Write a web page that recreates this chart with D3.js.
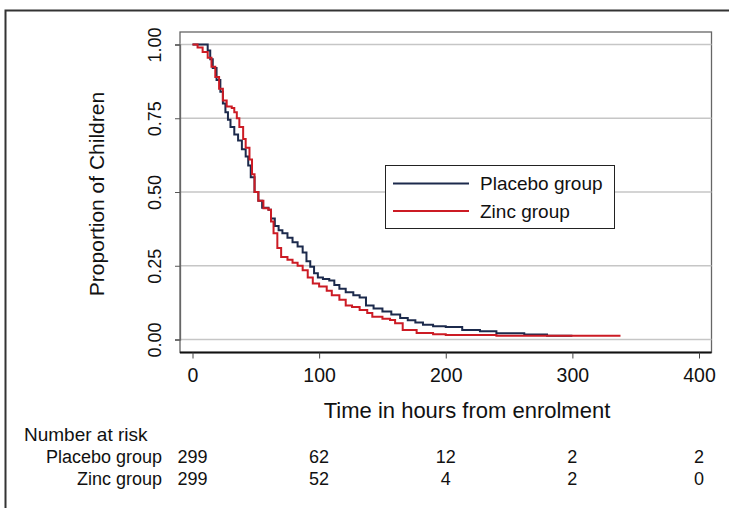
<!DOCTYPE html>
<html>
<head>
<meta charset="utf-8">
<script src="https://cdn.jsdelivr.net/npm/d3@7"></script>
<style>
  body { margin: 0; background: #fff; }
  svg text { font-family: "Liberation Sans", Arial, sans-serif; fill: #111; }
</style>
</head>
<body>
<svg id="chart" width="729" height="508"></svg>
<script>
// Kaplan-Meier steps: [hours, proportion]
const placeboSteps = [
  [0, 1.0], [10, 1.0], [12, 0.98], [14, 0.95], [16, 0.92], [19, 0.88], [22, 0.84], [24, 0.80],
  [26, 0.77], [28, 0.745], [30, 0.72], [33, 0.695], [36, 0.675], [39, 0.645], [42, 0.62],
  [44, 0.59], [46, 0.55], [49, 0.50], [52, 0.47], [55, 0.447], [60, 0.44], [62, 0.41],
  [65, 0.385], [68, 0.37], [71, 0.36], [75, 0.345], [79, 0.33], [83, 0.315], [87, 0.295],
  [90, 0.265], [93, 0.247], [96, 0.225], [99, 0.21], [103, 0.205], [108, 0.20], [112, 0.185],
  [116, 0.172], [121, 0.16], [127, 0.15], [132, 0.142], [137, 0.115], [143, 0.105], [150, 0.095],
  [157, 0.085], [164, 0.073], [170, 0.065], [176, 0.058], [182, 0.05], [190, 0.045], [200, 0.042],
  [213, 0.032], [227, 0.028], [240, 0.021], [262, 0.017], [280, 0.013], [300, 0.013]
];
const zincSteps = [
  [0, 1.0], [4, 0.99], [8, 0.975], [12, 0.955], [15, 0.925], [18, 0.89], [21, 0.85], [24, 0.81],
  [27, 0.79], [31, 0.785], [33, 0.77], [35, 0.75], [37, 0.72], [40, 0.68], [42, 0.65], [45, 0.61],
  [47, 0.56], [49, 0.50], [52, 0.47], [56, 0.445], [60, 0.44], [62, 0.40], [64, 0.36], [67, 0.31],
  [70, 0.28], [75, 0.27], [79, 0.26], [83, 0.25], [87, 0.235], [91, 0.21], [95, 0.19], [100, 0.18],
  [106, 0.165], [110, 0.15], [116, 0.135], [121, 0.115], [126, 0.11], [132, 0.10], [138, 0.09],
  [142, 0.077], [150, 0.07], [156, 0.066], [160, 0.055], [166, 0.032], [177, 0.022], [190, 0.018],
  [200, 0.015], [240, 0.013], [338, 0.013]
];

const groupNames = ["Placebo group", "Zinc group"];
const groupColors = ["#1c2a4c", "#cc1b24"];
const xTicks = [0, 100, 200, 300, 400];
const yTicks = [0, 0.25, 0.5, 0.75, 1];
const placeboAtRisk = [299, 62, 12, 2, 2];
const zincAtRisk = [299, 52, 4, 2, 0];

const font = "Liberation Sans, Arial, sans-serif";
const svg = d3.select("#chart");

// outer frame (top and left edges visible)
svg.append("path").attr("d", "M5.5,520 V10.5 H740")
  .attr("fill", "none").attr("stroke", "#333").attr("stroke-width", 2);

const box = {left: 180, right: 711.5, top: 32, bottom: 352.5};
const x = d3.scaleLinear().domain([0, 400]).range([192.5, 699]);
const y = d3.scaleLinear().domain([0, 1]).range([339.5, 44.5]);

// plot box
svg.append("rect").attr("x", box.left).attr("y", box.top)
  .attr("width", box.right - box.left).attr("height", box.bottom - box.top)
  .attr("fill", "none").attr("stroke", "#666").attr("stroke-width", 1.3);

// gridlines
svg.append("g").selectAll("line").data(yTicks).join("line")
  .attr("x1", box.left).attr("x2", box.right)
  .attr("y1", d => y(d)).attr("y2", d => y(d))
  .attr("stroke", "#c6c6c6").attr("stroke-width", 1.7);

// y axis
const yAxis = svg.append("g").attr("transform", `translate(${box.left},0)`)
  .call(d3.axisLeft(y).tickValues(yTicks).tickFormat(d3.format(".2f")).tickSize(5).tickPadding(0))
  .attr("font-family", font);
yAxis.select(".domain").attr("stroke", "#666").attr("stroke-width", 1.3);
yAxis.selectAll(".tick line").attr("stroke", "#555");
yAxis.selectAll(".tick text")
  .attr("font-size", 18).attr("text-anchor", "middle")
  .attr("x", null).attr("dy", null)
  .attr("transform", "translate(-19,0) rotate(-90)");

// x axis
const xAxis = svg.append("g").attr("transform", `translate(0,${box.bottom})`)
  .call(d3.axisBottom(x).tickValues(xTicks).tickSize(6).tickPadding(6))
  .attr("font-family", font);
xAxis.select(".domain").attr("stroke", "#111").attr("stroke-width", 2.2)
  .attr("d", `M${box.left},0H${box.right}`);
xAxis.selectAll(".tick line").attr("stroke", "#444");
xAxis.selectAll(".tick text").attr("font-size", 19.5).attr("dy", "0.9em");

// axis titles
svg.append("text").attr("transform", "translate(104,194) rotate(-90)")
  .attr("text-anchor", "middle").attr("font-size", 21).text("Proportion of Children");
svg.append("text").attr("x", 467).attr("y", 418)
  .attr("text-anchor", "middle").attr("font-size", 22).text("Time in hours from enrolment");

// survival curves
const line = d3.line().x(d => x(d[0])).y(d => y(d[1])).curve(d3.curveStepAfter);
[placeboSteps, zincSteps].forEach((steps, i) => {
  svg.append("path").datum(steps).attr("d", line)
    .attr("fill", "none").attr("stroke", groupColors[i]).attr("stroke-width", 2);
});

// legend
const lg = svg.append("g");
lg.append("rect").attr("x", 385.5).attr("y", 165.5).attr("width", 229).attr("height", 63)
  .attr("fill", "#fff").attr("stroke", "#222").attr("stroke-width", 1);
groupNames.forEach((name, i) => {
  const ly = 183.5 + i * 27.5;
  lg.append("line").attr("x1", 393).attr("x2", 469).attr("y1", ly).attr("y2", ly)
    .attr("stroke", groupColors[i]).attr("stroke-width", 2);
  lg.append("text").attr("x", 480).attr("y", ly).attr("dy", "0.35em")
    .attr("font-size", 19).text(name);
});

// number at risk table
svg.append("text").attr("x", 24).attr("y", 441).attr("font-size", 19).text("Number at risk");
[placeboAtRisk, zincAtRisk].forEach((row, r) => {
  const ry = 457 + r * 22;
  svg.append("text").attr("x", 162).attr("y", ry).attr("dy", "0.35em")
    .attr("text-anchor", "end").attr("font-size", 18).text(groupNames[r]);
  svg.append("g").selectAll("text").data(row).join("text")
    .attr("x", (d, i) => x(xTicks[i])).attr("y", ry).attr("dy", "0.35em")
    .attr("text-anchor", "middle").attr("font-size", 18).text(d => d);
});
</script>
</body>
</html>
